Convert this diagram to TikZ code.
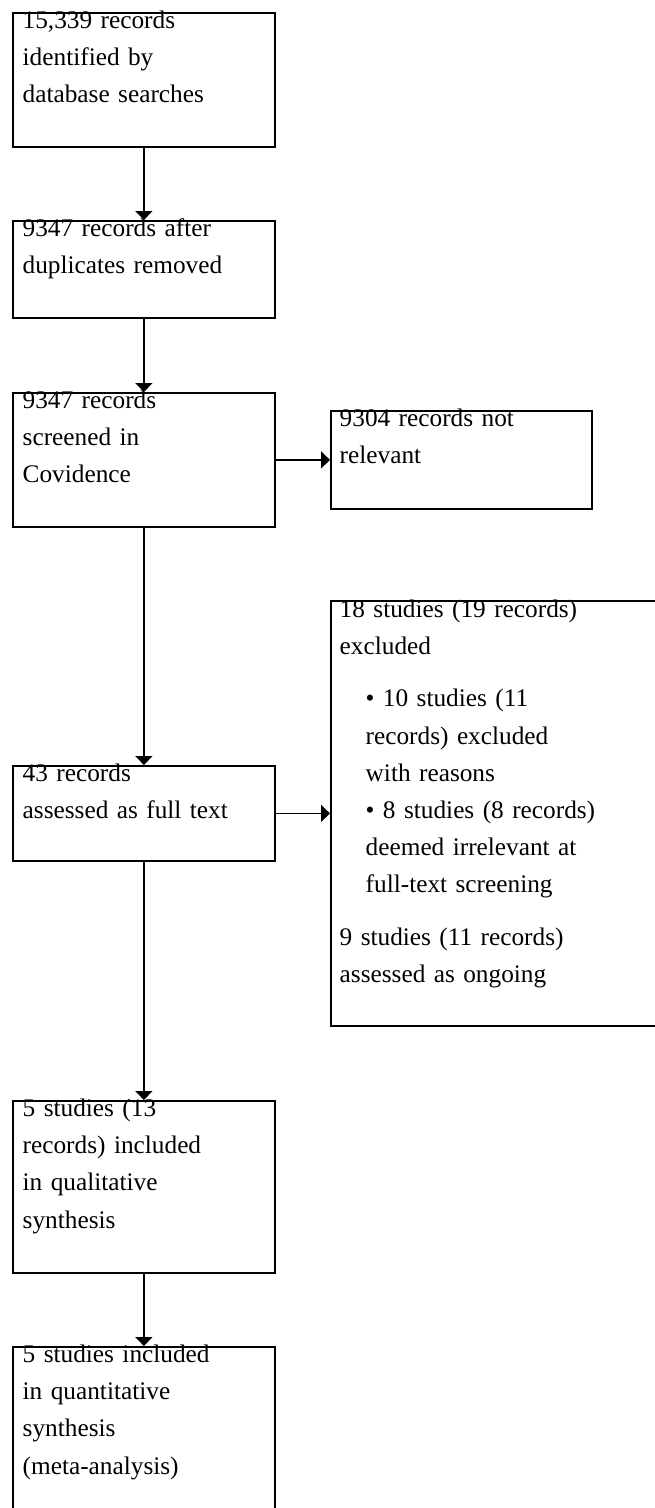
\documentclass[tikz,border=0pt]{standalone}
\usepackage{fontspec}
\setmainfont{Liberation Serif}
\usetikzlibrary{arrows.meta,positioning}

\begin{document}
\begin{tikzpicture}[x=1pt, y=-1pt,
    flow/.style={draw, line width=1.8pt, anchor=north west, minimum width=262pt, inner sep=0pt},
    txt/.style={anchor=base west, text width=300pt, align=left, inner sep=0pt, font=\fontsize{25.3}{37.2}\selectfont},
    arr/.style={-{Triangle[length=9pt,width=17pt]}, line width=1.8pt}
]
\useasboundingbox (0,0) rectangle (654,1508);

% main column
\node[flow, minimum height=134pt] (b1) at (12,12) {};
\node[flow, minimum height=97pt] (b2) at (12,220) {};
\node[flow, minimum height=134pt] (b3) at (12,392) {};
\node[flow, minimum height=95pt] (b5) at (12,765) {};
\node[flow, minimum height=172pt] (b7) at (12,1100) {};
\node[flow, minimum height=200pt] (b8) at (12,1346) {};
% side boxes
\node[flow, minimum width=261pt, minimum height=98pt] (b4) at (330,410) {};
\node[flow, minimum width=340pt, minimum height=425pt] (b6) at (330,600) {};

\node[txt] (t1) at ([shift={(10.5pt,-16.5pt)}]b1.north west) {15,339 records\\identified by\\database searches};
\node[txt] (t2) at ([shift={(10.5pt,-16.5pt)}]b2.north west) {9347 records after\\duplicates removed};
\node[txt] (t3) at ([shift={(10.5pt,-16.5pt)}]b3.north west) {9347 records\\screened in\\Covidence};
\node[txt] (t4) at ([shift={(9.5pt,-16.5pt)}]b4.north west) {9304 records not\\relevant};
\node[txt] (t5) at ([shift={(10.5pt,-16.5pt)}]b5.north west) {43 records\\assessed as full text};
\node[txt] (t6) at ([shift={(9.5pt,-17.5pt)}]b6.north west) {18 studies (19 records)\\excluded\\[15pt]
    \hspace*{26pt}• 10 studies (11\\\hspace*{26pt}records) excluded\\\hspace*{26pt}with reasons\\
    \hspace*{26pt}• 8 studies (8 records)\\\hspace*{26pt}deemed irrelevant at\\\hspace*{26pt}full-text screening\\[15pt]
    9 studies (11 records)\\assessed as ongoing};
\node[txt] (t7) at ([shift={(10.5pt,-16.5pt)}]b7.north west) {5 studies (13\\records) included\\in qualitative\\synthesis};
\node[txt] (t8) at ([shift={(10.5pt,-16.5pt)}]b8.north west) {5 studies included\\in quantitative\\synthesis\\(meta-analysis)};

\draw[arr] (b1) -- (b2);
\draw[arr] (b2) -- (b3);
\draw[arr] (b3) -- (b5);
\draw[arr] (b5) -- (b7);
\draw[arr] (b7) -- (b8);
\draw[arr] (b3.east) -- (b3.east -| b4.west);
\draw[arr] (b5.east) -- (b5.east -| b6.west);
\end{tikzpicture}
\end{document}
